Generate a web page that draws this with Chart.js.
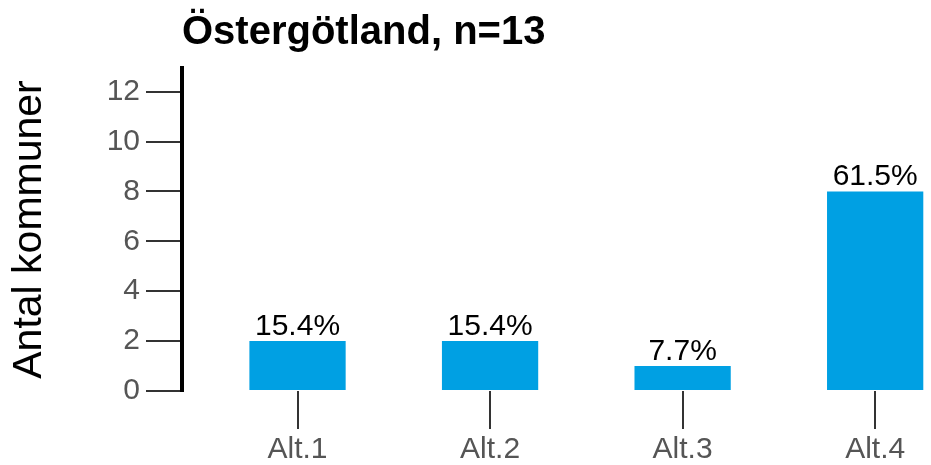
<!DOCTYPE html>
<html>
<head>
<meta charset="utf-8">
<script src="https://cdn.jsdelivr.net/npm/chart.js@4"></script>
<style>
  html, body { margin: 0; padding: 0; background: #fff; }
  #wrap { width: 931px; height: 465px; }
</style>
</head>
<body>
<div id="wrap"><canvas id="chart" width="931" height="465"></canvas></div>
<script>
const categories = ['Alt.1', 'Alt.2', 'Alt.3', 'Alt.4'];
const counts = [2, 2, 1, 8];
const percentLabels = ['15.4%', '15.4%', '7.7%', '61.5%'];
const yTicks = [0, 2, 4, 6, 8, 10, 12];
const titleText = 'Östergötland, n=13';
const yTitle = 'Antal kommuner';

const FONT = "'Liberation Sans', Arial, sans-serif";
const BAR_BLUE = '#00a0e3';
const TICK_GREY = '#333333';
const LABEL_GREY = '#555555';

// percent labels above each bar
const barLabels = {
  id: 'barLabels',
  afterDatasetsDraw(chart) {
    const ctx = chart.ctx;
    const meta = chart.getDatasetMeta(0);
    ctx.save();
    ctx.font = `30px ${FONT}`;
    ctx.fillStyle = '#000';
    ctx.textAlign = 'center';
    ctx.textBaseline = 'alphabetic';
    meta.data.forEach((bar, i) => {
      ctx.fillText(percentLabels[i], bar.x, bar.y - 6);
    });
    ctx.restore();
  }
};

new Chart(document.getElementById('chart'), {
  type: 'bar',
  data: {
    datasets: [{
      data: counts.map((v, i) => ({ x: i + 1, y: v })),
      backgroundColor: BAR_BLUE,
      borderWidth: 0,
      barPercentage: 0.5,
      categoryPercentage: 1
    }]
  },
  plugins: [barLabels],
  options: {
    responsive: false,
    animation: false,
    layout: { padding: 0 },
    plugins: {
      legend: { display: false },
      tooltip: { enabled: false },
      title: {
        display: true, text: titleText, align: 'start', fullSize: false,
        color: '#000', font: { family: FONT, size: 40, weight: 'bold' },
        padding: { top: 9, bottom: 11 }
      }
    },
    scales: {
      x: {
        type: 'linear', min: 0.4, max: 4.29, offset: false,
        afterBuildTicks: s => { s.ticks = categories.map((_, i) => ({ value: i + 1 })); },
        afterFit: s => { s.height = 74; },
        border: { display: false },
        grid: { offset: false, drawOnChartArea: false, drawTicks: true, tickLength: 38, color: TICK_GREY, lineWidth: 2 },
        ticks: { callback: v => categories[v - 1], color: LABEL_GREY, font: { family: FONT, size: 30 }, padding: 3, maxRotation: 0, autoSkip: false }
      },
      y: {
        min: 0, max: 12.95,
        afterBuildTicks: s => { s.ticks = yTicks.map(v => ({ value: v })); },
        afterFit: s => { s.width = 182; },
        border: { display: true, color: '#000', width: 4 },
        grid: { drawOnChartArea: false, tickLength: 36, color: TICK_GREY, lineWidth: 2 },
        ticks: { color: LABEL_GREY, font: { family: FONT, size: 30 }, padding: 6 },
        title: { display: true, text: yTitle, color: '#000', font: { family: FONT, size: 41 }, padding: { top: 5, bottom: 4 } }
      }
    }
  }
});
</script>
</body>
</html>
